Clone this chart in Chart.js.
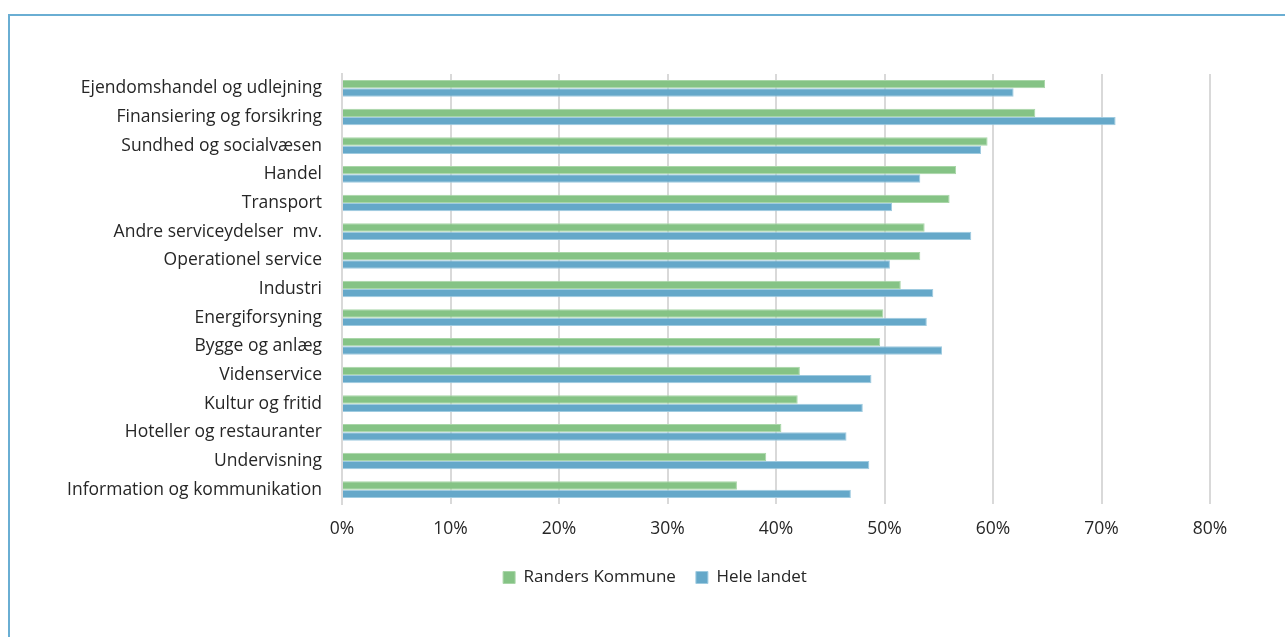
<!DOCTYPE html>
<html>
<head>
<meta charset="utf-8">
<script src="https://cdn.jsdelivr.net/npm/chart.js@4"></script>
<style>
  html, body { margin: 0; padding: 0; background: #fff; overflow: hidden; }
  #frame {
    position: absolute; left: 8px; top: 14px; width: 1400px; height: 700px;
    border-top: 2px solid #6aaed3; border-left: 2px solid #6aaed3;
  }
  #wrap { position: absolute; left: 0; top: 0; width: 1285px; height: 637px; }
</style>
</head>
<body>
<div id="frame"></div>
<div id="wrap"><canvas id="myChart" width="1285" height="637"></canvas></div>
<script>
const categories = [
    "Ejendomshandel og udlejning",
    "Finansiering og forsikring",
    "Sundhed og socialvæsen",
    "Handel",
    "Transport",
    "Andre serviceydelser  mv.",
    "Operationel service",
    "Industri",
    "Energiforsyning",
    "Bygge og anlæg",
    "Videnservice",
    "Kultur og fritid",
    "Hoteller og restauranter",
    "Undervisning",
    "Information og kommunikation"
];
const randers = [64.8, 63.9, 59.5, 56.6, 56.0, 53.7, 53.3, 51.5, 49.9, 49.6, 42.2, 42.0, 40.5, 39.1, 36.4];
const heleLandet = [61.9, 71.3, 58.9, 53.3, 50.7, 58.0, 50.5, 54.5, 53.9, 55.3, 48.8, 48.0, 46.5, 48.6, 46.9];
const tickMax = 80;
const tickStep = 10;

const font = "'Open Sans', 'Noto Sans', sans-serif";
const ctx = document.getElementById('myChart');

// legend in the original sits a bit right of the plot's centre
const shiftLegend = {
    id: 'shiftLegend',
    afterLayout(chart) {
        chart.legend.left += 50;
        chart.legend.right += 50;
    }
};

new Chart(ctx, {
    type: 'bar',
    data: {
        labels: categories,
        datasets: [{
            label: 'Randers Kommune',
            data: randers,
            backgroundColor: '#85c385',
            borderColor: '#a9d6a8',
            borderWidth: 1
        }, {
            label: 'Hele landet',
            data: heleLandet,
            backgroundColor: '#65a8c9',
            borderColor: '#9fcbe0',
            borderWidth: 1
        }]
    },
    plugins: [shiftLegend],
    options: {
        indexAxis: 'y',
        responsive: false,
        animation: false,
        categoryPercentage: 0.58,
        barPercentage: 1.0,
        layout: { padding: { left: 0, right: 75, top: 74, bottom: 41 } },
        scales: {
            x: {
                min: 0,
                max: tickMax,
                ticks: {
                    stepSize: tickStep,
                    padding: 15,
                    color: '#262626',
                    font: { family: font, size: 17.5 },
                    callback: v => v + '%'
                },
                grid: { color: '#d9d9d9', lineWidth: 2, drawTicks: false },
                border: { display: false },
                afterFit: s => { s.height = 45; }
            },
            y: {
                ticks: {
                    padding: 20,
                    color: '#262626',
                    font: { family: font, size: 17.5 }
                },
                grid: { display: false, drawTicks: false },
                border: { color: '#d9d9d9', width: 2 },
                afterFit: s => { s.width = 342; }
            }
        },
        plugins: {
            legend: {
                position: 'bottom',
                labels: {
                    boxWidth: 12,
                    boxHeight: 12,
                    padding: 20,
                    color: '#262626',
                    font: { family: font, size: 17 }
                }
            },
            tooltip: { enabled: false }
        }
    }
});
</script>
</body>
</html>
